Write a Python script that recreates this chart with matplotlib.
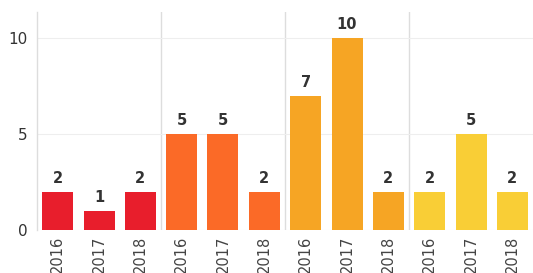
import matplotlib
matplotlib.use("Agg")
import matplotlib.pyplot as plt

years = ["2016", "2017", "2018"]
group_values = [[2, 1, 2], [5, 5, 2], [7, 10, 2], [2, 5, 2]]
group_colors = ["#E81E2C", "#FB6A27", "#F6A524", "#F9CE36"]

labels = [y for g in group_values for y in years]
values = [v for g in group_values for v in g]
colors = [c for g, c in zip(group_values, group_colors) for _ in g]
x = list(range(len(values)))

fig = plt.figure(figsize=(5.33, 2.73), dpi=100)
ax = fig.add_axes([37/533, 43/273, 1 - 37/533, (230 - 12)/273])

ax.bar(x, values, width=0.75, color=colors, zorder=3)
for xi, v in zip(x, values):
    ax.text(xi, v + 0.3, str(v), ha="center", va="bottom", fontsize=10.5,
            color="#333333", fontweight="semibold")

ax.set_xlim(-0.5, len(values) - 0.5)
ax.set_ylim(0, 11.35)
ax.set_yticks([0, 5, 10])
ax.set_xticks(x)
ax.set_xticklabels(labels, rotation=90, fontsize=10.5, color="#444444")
ax.tick_params(axis="y", labelsize=11, colors="#333333", length=0, pad=7)
ax.tick_params(axis="x", length=0, pad=4)
ax.yaxis.grid(True, color="#EEEEEE", linewidth=0.8, zorder=0)

for sep in [2.5, 5.5, 8.5]:
    ax.axvline(sep, color="#DDDDDD", linewidth=1, zorder=1)

for s in ["top", "right", "bottom"]:
    ax.spines[s].set_visible(False)
ax.spines["left"].set_color("#DDDDDD")
ax.spines["left"].set_linewidth(1)

fig.savefig("out.png", dpi=100)
